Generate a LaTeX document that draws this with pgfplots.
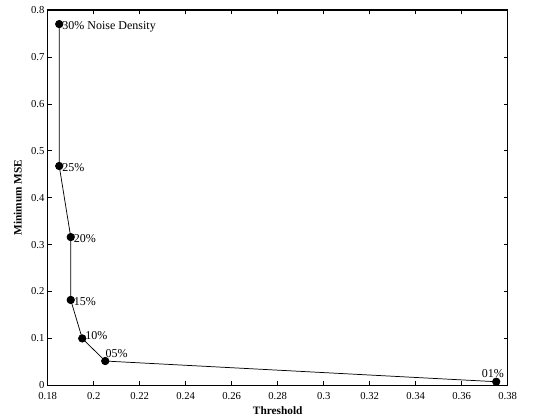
\documentclass[border=0pt]{standalone}
\usepackage{pgfplots}
\pgfplotsset{compat=1.18}
\usepackage{fontspec}
\setmainfont{Liberation Serif}
\begin{document}
\begin{tikzpicture}
\useasboundingbox (-35.8pt,-25.3pt) rectangle (369.2pt,289pt);
\begin{axis}[
  at={(0,0)}, anchor=south west,
  scale only axis, width=345pt, height=281.5pt,
  xmin=0.18, xmax=0.38, ymin=0, ymax=0.8,
  xtick={0.18,0.2,...,0.381}, ytick={0,0.1,...,0.81},
  xticklabels={0.18,0.2,0.22,0.24,0.26,0.28,0.3,0.32,0.34,0.36,0.38},
  yticklabels={0,0.1,0.2,0.3,0.4,0.5,0.6,0.7,0.8},
  tick align=inside, major tick length=3pt,
  tick style={black, line width=0.5pt},
  axis line style={line width=0.9pt},
  ticklabel style={font=\fontsize{8}{9.6}\selectfont},
  xticklabel style={yshift=-1.5pt},
  yticklabel style={xshift=1pt},
  xlabel={\textbf{Threshold}}, ylabel={\textbf{Minimum MSE}},
  label style={font=\fontsize{8.5}{10}\selectfont},
  xlabel style={yshift=1.5pt},
  ylabel style={yshift=0pt},
  clip=false,
]
\addplot[black, line width=0.55pt, mark=*, mark size=2.8pt, mark options={fill=black}] coordinates {
(0.185,0.770) (0.185,0.4675) (0.190,0.316) (0.190,0.182) (0.195,0.100) (0.205,0.0518) (0.375,0.0077)
};
\begin{scope}[every node/.style={font=\fontsize{9}{10.8}\selectfont, inner sep=1pt}]
\node[anchor=west] at (axis cs:0.1857,0.765) {30\% Noise Density};
\node[anchor=west] at (axis cs:0.1857,0.4635) {25\%};
\node[anchor=west] at (axis cs:0.1907,0.3125) {20\%};
\node[anchor=west] at (axis cs:0.1907,0.1785) {15\%};
\node[anchor=west] at (axis cs:0.1957,0.1055) {10\%};
\node[anchor=south west] at (axis cs:0.2045,0.056) {05\%};
\node[anchor=south] at (axis cs:0.3735,0.012) {01\%};
\end{scope}
\end{axis}
\end{tikzpicture}
\end{document}
